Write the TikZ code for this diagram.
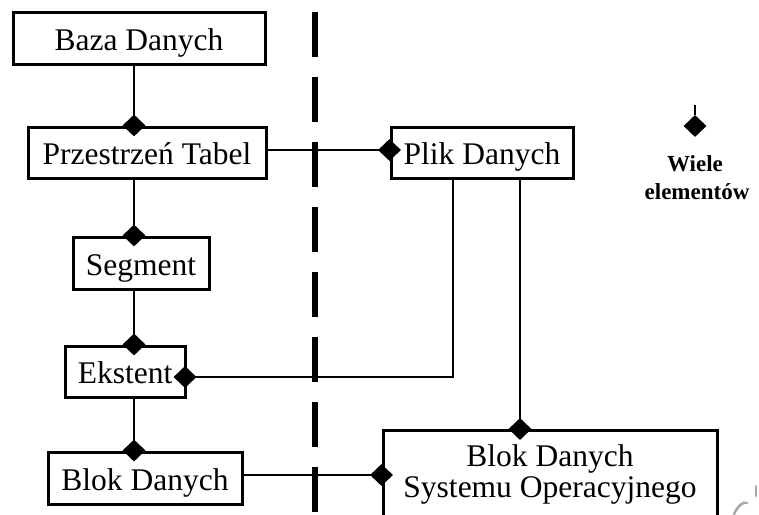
\documentclass[tikz,border=0pt]{standalone}
\usepackage{fontspec}
\setmainfont{Liberation Serif}
\usetikzlibrary{shapes.geometric}
\begin{document}
\begin{tikzpicture}[x=1pt,y=-1pt,
  box/.style={draw=black,line width=3pt,fill=white,inner sep=0pt,text height=24pt,text depth=0pt,font=\fontsize{31.5}{32}\selectfont},
  conn/.style={draw=black,line width=2.6pt},
  dia/.style={shape=diamond,fill=black,inner sep=0pt,minimum width=23pt,minimum height=22pt},
  lbl/.style={font=\fontsize{31.5}{31}\selectfont,align=center,inner sep=0pt,anchor=base},
  legend/.style={font=\bfseries\fontsize{23}{24}\selectfont,inner sep=0pt,anchor=base}]
\clip (0,0) rectangle (759,514);
\useasboundingbox (0,0) rectangle (759,514);
% separator
\draw[line width=6pt,dash pattern=on 45pt off 20pt] (315,12) -- (315,514);
\coordinate (spine) at (134,0);
% nodes
\node[box,minimum width=252pt,minimum height=52pt] (baza) at (139,38.5) {Baza Danych};
\node[box,minimum width=238pt,minimum height=51pt] (prz) at (147,152.5) {Przestrzeń Tabel};
\node[box,minimum width=136pt,minimum height=52pt] (seg) at (141,263) {Segment};
\node[box,minimum width=120pt,minimum height=51pt] (eks) at (125,371.5) {Ekstent};
\node[box,minimum width=194pt,minimum height=52pt] (blok) at (145,478) {Blok Danych};
\node[box,minimum width=182pt,minimum height=51pt] (plik) at (482,152.5) {Plik Danych};
\node[box,minimum width=334pt,minimum height=111pt,anchor=north] (bdso) at (550,429) {};
\node[lbl] (bdsot) at (550,497) {Blok Danych\\Systemu Operacyjnego};
\coordinate (pa) at (453,0);
\coordinate (pb) at (520,0);
\coordinate (ek) at (185,377);
\coordinate (bl) at (0,475);
% connectors
\draw[conn] (baza.south -| spine) -- (prz.north -| spine);
\draw[conn] (prz.south -| spine) -- (seg.north -| spine);
\draw[conn] (seg.south -| spine) -- (eks.north -| spine);
\draw[conn] (eks.south -| spine) -- (blok.north -| spine);
\draw[conn] (prz.east |- 0,150) -- (plik.west |- 0,150);
\draw[conn] (plik.south -| pa) -- (ek -| pa) -- (ek);
\draw[conn] (plik.south -| pb) -- (bdso.north -| pb);
\draw[conn] (blok.east |- bl) -- (bdso.west |- bl);
% diamonds
\node[dia] (d1) at (prz.north -| spine) {};
\node[dia] (d2) at (seg.north -| spine) {};
\node[dia] (d3) at (eks.north -| spine) {};
\node[dia] (d4) at (blok.north -| spine) {};
\node[dia] (d5) at (plik.west |- 0,150) {};
\node[dia] (d6) at (ek) {};
\node[dia] (d7) at (bdso.north -| pb) {};
\node[dia] (d8) at (bdso.west |- bl) {};
% legend
\node[dia] (ld) at (695,126) {};
\coordinate (lt) at (695,105);
\draw[conn] (lt) -- (ld.north);
\node[legend] (lw) at (695,171) {Wiele};
\node[legend] (le) at (697,199) {elementów};
% stray mark
\draw[gray!70,line width=2.5pt,line cap=round] (734,514) .. controls (738,506) and (743,501) .. (747,503);
\draw[gray!70,line width=2pt,line cap=round] (756,486) -- (756,496);
\end{tikzpicture}
\end{document}
